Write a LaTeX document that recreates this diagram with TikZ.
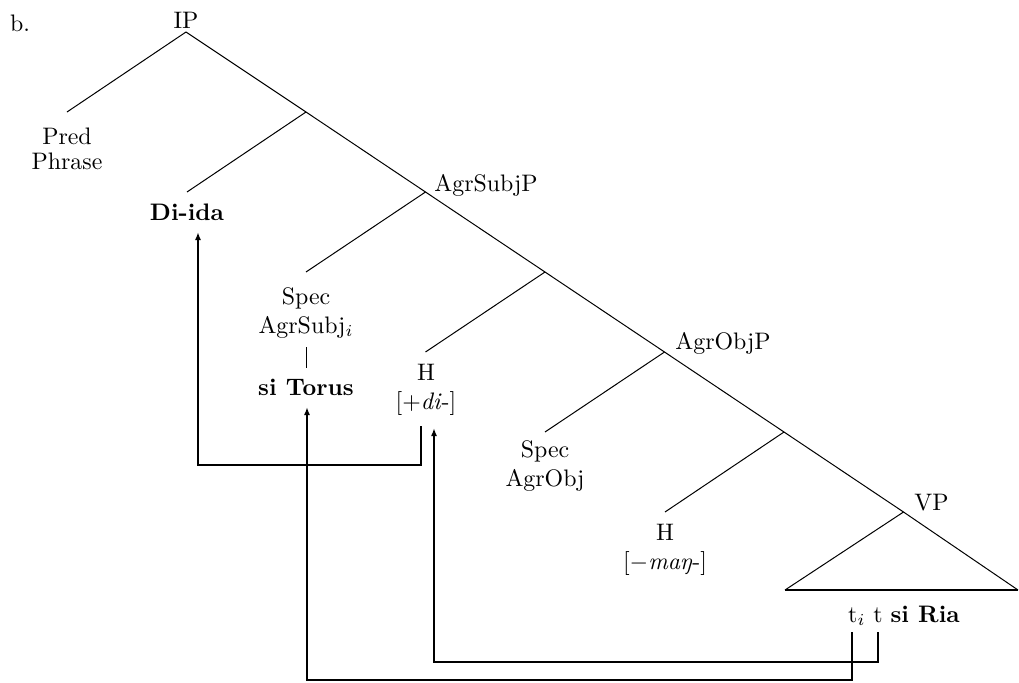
\documentclass[tikz,border=0pt]{standalone}
\usetikzlibrary{arrows.meta}
\begin{document}
\begin{tikzpicture}[x=0.75pt,y=-0.75pt,
  lbl/.style={font=\fontsize{10}{12}\selectfont, scale=1.79, inner sep=0pt, align=center},
  tight/.style={font=\fontsize{10}{10.2}\selectfont},
  branch/.style={line width=0.75pt},
  thickline/.style={line width=1.6pt},
  arr/.style={line width=1.6pt, -{Latex[length=6pt,width=4.5pt]}}]
\useasboundingbox (0,0) rectangle (1019,682);
% tree coordinates
\coordinate (ip) at (186,32);
\coordinate (j1) at (306,112);
\coordinate (j2) at (425.5,192);
\coordinate (j3) at (545,272);
\coordinate (j4) at (664.5,352);
\coordinate (j5) at (784,432);
\coordinate (j6) at (903.5,512);
\coordinate (tl) at (785,590);
\coordinate (tr) at (1018,590);
\coordinate (pe) at (67,112);
\coordinate (de) at (187,192);
\coordinate (se) at (306,272);
\coordinate (he) at (425.5,352);
\coordinate (soe) at (545,432);
\coordinate (h2e) at (665,512);
% labels
\node[lbl] (b) at (20,23) {b.};
\node[lbl] (IP) at (186,20) {IP};
\node[lbl, anchor=west] (agrsubjp) at (434,185) {AgrSubjP};
\node[lbl, anchor=west] (agrobjp) at (675,343) {AgrObjP};
\node[lbl, anchor=west] (vp) at (914,503) {VP};
\node[lbl, tight] (pred) at (67,149) {Pred\\Phrase};
\node[lbl] (diida) at (187,212) {\textbf{Di-ida}};
\node[lbl] (specsubj) at (306,313) {Spec\\AgrSubj$_i$};
\node[lbl] (torus) at (306,387) {\textbf{si Torus}};
\node[lbl] (hdi) at (426,390) {H\\{}[$+$\textit{di}-]};
\node[lbl] (specobj) at (545,466) {Spec\\AgrObj};
\node[lbl] (hmang) at (665,550) {H\\{}[$-$\textit{maŋ}-]};
\node[lbl] (ria) at (904,616) {t$_i$ t \textbf{si Ria}};
% tree branches
\draw[branch] (ip) -- (j1) -- (j2) -- (j3) -- (j4) -- (j5) -- (j6) -- (tr);
\draw[branch] (ip) -- (pe);
\draw[branch] (j1) -- (de);
\draw[branch] (j2) -- (se);
\draw[branch] (j3) -- (he);
\draw[branch] (j4) -- (soe);
\draw[branch] (j5) -- (h2e);
\draw[branch] (j6) -- (tl);
\draw[thickline] (tl) -- (tr);
\coordinate (bartop) at (306,347);
\coordinate (barbot) at (306,368);
\draw[branch] (bartop) -- (barbot);
% movement arrows
\coordinate (a1s) at (421,426);
\coordinate (a1t) at (198,232);
\coordinate (a2s) at (852,632);
\coordinate (a2t) at (307,407);
\coordinate (a3s) at (878,632);
\coordinate (a3t) at (434,428);
\draw[arr] (a1s) -- ++(0,39) -| (a1t);
\draw[arr] (a2s) -- ++(0,48) -| (a2t);
\draw[arr] (a3s) -- ++(0,30) -| (a3t);
\end{tikzpicture}
\end{document}
